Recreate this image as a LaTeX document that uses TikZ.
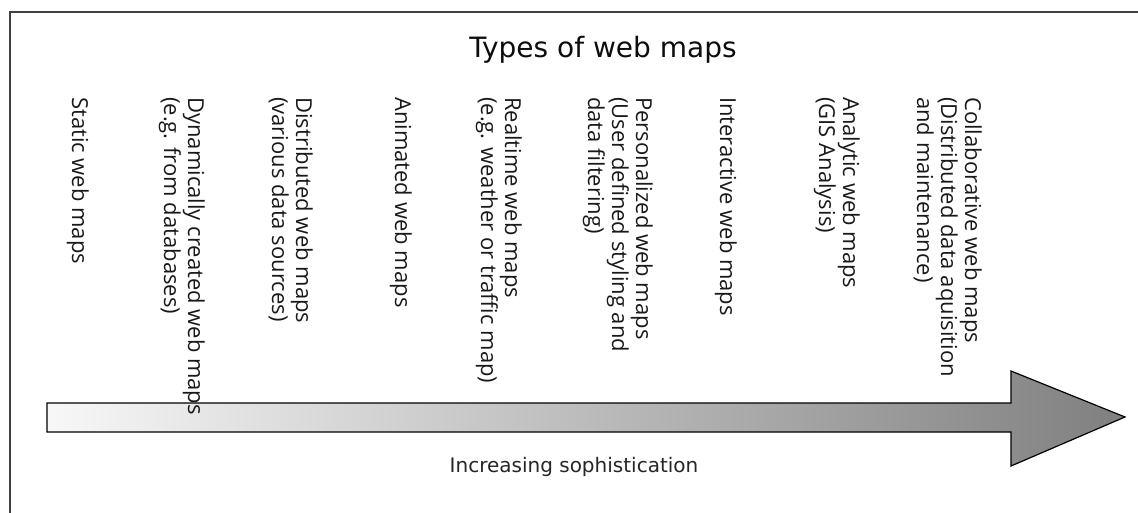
\documentclass[tikz,border=0pt]{standalone}
\usepackage{fontspec}
\setmainfont{DejaVu Sans}
\newfontfamily\kindfont{Open Sans}
\begin{document}
\begin{tikzpicture}[x=1pt,y=-1pt,
  frameline/.style={draw=black!75,line width=1.6pt},
  bigarrow/.style={draw=black,line width=1.2pt,left color=white!97!black,right color=black!50},
  kind/.style={rotate=-90,anchor=north west,inner sep=0pt,align=left,
    font=\kindfont\fontsize{22}{24}\selectfont,text=black!90},
  heading/.style={anchor=base,font=\fontsize{28}{34}\selectfont,text=black!95},
  axislabel/.style={anchor=base,font=\fontsize{20}{24}\selectfont,text=black!85},
]
\useasboundingbox (0,0) rectangle (1138,513);

% open frame: top and left edges
\draw[frameline] (1140,12) -- (10,12) -- (10,515);

% shaded arrow of growing sophistication
\path[bigarrow] (47,403) -- (1011,403) -- (1011,371) -- (1125,417)
  -- (1011,466) -- (1011,432) -- (47,432) -- cycle;

\node[heading] (title) at (603,58) {Types of web maps};
\node[axislabel] (axis) at (574,472) {Increasing sophistication};

% the kinds of web maps, written downwards
\node[kind] (static) at (89,97) {Static web maps};
\node[kind] (dynamic) at (205,97) {Dynamically created web maps\\(e.g. from databases)};
\node[kind] (distributed) at (313,97) {Distributed web maps\\(various data sources)};
\node[kind] (animated) at (412,97) {Animated web maps};
\node[kind] (realtime) at (522,97) {Realtime web maps\\(e.g. weather or traffic map)};
\node[kind] (personal) at (653,97) {Personalized web maps\\(User defined styling and\\data filtering)};
\node[kind] (interactive) at (737,97) {Interactive web maps};
\node[kind] (analytic) at (860,97) {Analytic web maps\\(GIS Analysis)};
\node[kind] (collab) at (982,97) {Collaborative web maps\\(Distributed data aquisition\\and maintenance)};
\end{tikzpicture}
\end{document}
